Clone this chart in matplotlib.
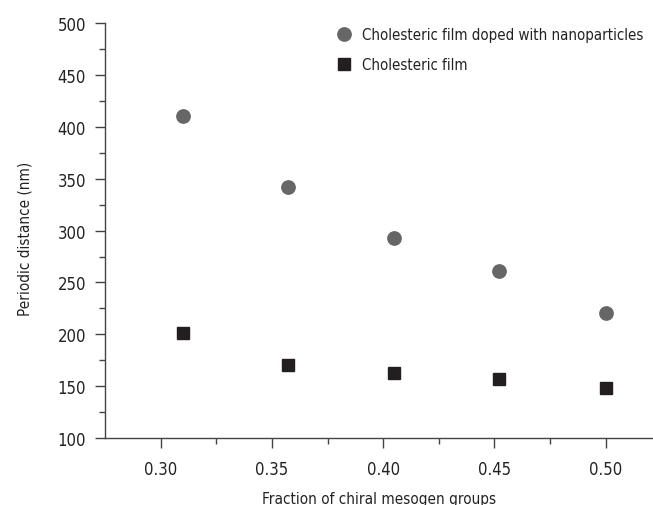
import matplotlib.pyplot as plt
from matplotlib import font_manager
from matplotlib.ticker import MultipleLocator

# narrow sans face, like the reference; fall back to plain Liberation Sans
face = 'Liberation Sans'
stretch = 'normal'
for fam, st in [('Liberation Sans Narrow', 'normal'), ('DejaVu Sans', 'condensed')]:
    path = font_manager.findfont(font_manager.FontProperties(family=fam, stretch=st),
                                 fallback_to_default=False) if fam in {f.name for f in font_manager.fontManager.ttflist} else ''
    if 'Narrow' in path or 'Condensed' in path:
        face, stretch = fam, st
        break
plt.rcParams['font.family'] = [face, 'DejaVu Sans']
plt.rcParams['font.stretch'] = stretch

fraction = [0.31, 0.357, 0.405, 0.452, 0.50]
doped = [411, 342, 293, 261, 221]
film = [201, 170, 163, 157, 148]

label_doped = 'Cholesteric film doped with nanoparticles'
label_film = 'Cholesteric film'

fig = plt.figure(figsize=(6.53, 5.06), dpi=100)
ax = fig.add_axes([0.1613, 0.1324, 0.8387, 0.8196])

ax.plot(fraction, doped, 'o', color='#666666', markersize=9.6, label=label_doped)
ax.plot(fraction, film, 's', color='#231f20', markersize=8.6, label=label_film)

ax.set_xlim(0.2751, 0.5213)
ax.set_ylim(100, 500)
ax.xaxis.set_major_locator(MultipleLocator(0.05))
ax.xaxis.set_minor_locator(MultipleLocator(0.025))
ax.yaxis.set_major_locator(MultipleLocator(50))
ax.yaxis.set_minor_locator(MultipleLocator(25))
ax.xaxis.set_major_formatter(plt.FuncFormatter(lambda v, p: f'{v:.2f}'))

for s in ['top', 'right']:
    ax.spines[s].set_visible(False)
for s in ['left', 'bottom']:
    ax.spines[s].set_color('#444444')
    ax.spines[s].set_linewidth(1.0)

ax.tick_params(which='major', direction='out', length=7, width=1, color='#444444',
               labelsize=12, labelcolor='#222222')
ax.tick_params(axis='y', which='major', pad=7)
ax.tick_params(axis='x', which='major', pad=9)
ax.tick_params(which='minor', direction='out', length=4, width=1, color='#444444')

ax.set_xlabel('Fraction of chiral mesogen groups', fontsize=11, color='#222222', labelpad=9.5)
ax.set_ylabel('Periodic distance (nm)', fontsize=11, color='#222222', labelpad=18, y=0.482)

ax.legend(loc='upper left', bbox_to_anchor=(0.506, 0.957), bbox_transform=fig.transFigure,
          frameon=False, fontsize=10.8, handlelength=1.0, handletextpad=0.7,
          labelspacing=1.0, borderaxespad=0, labelcolor='#222222')

fig.savefig('out.png', dpi=100)
